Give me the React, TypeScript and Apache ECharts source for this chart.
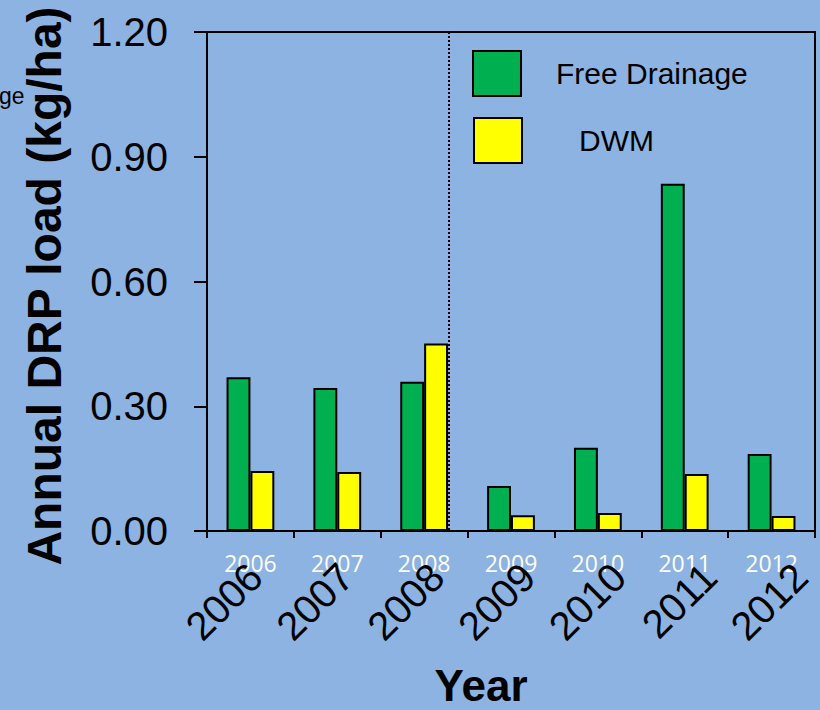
import React, { useEffect, useRef } from "react";
import * as echarts from "echarts";

const years = ["2006", "2007", "2008", "2009", "2010", "2011", "2012"];
const freeDrainage = [0.37, 0.344, 0.359, 0.108, 0.2, 0.835, 0.185];
const dwm = [0.144, 0.142, 0.451, 0.038, 0.043, 0.137, 0.036];
const seriesNames = ["Free Drainage", "DWM"];
const yMin = 0;
const yMax = 1.2;
const yStep = 0.3;
const yTitle = "Annual DRP load (kg/ha)";
const xTitle = "Year";

const ARIAL = "'Liberation Sans', Arial, sans-serif";
const BG = "#8DB3E2";

export default function App() {
  const ref = useRef<HTMLDivElement>(null);
  useEffect(() => {
    const el = ref.current;
    if (!el) return;
    const chart = echarts.init(el, null, { renderer: "svg" });
    const gridLeft = 207;
    const gridTop = 32;
    const gridRight = 5;
    const gridBottom = 179;
    const option: any = {
      animation: false,
      backgroundColor: BG,
      grid: [
        {
          left: gridLeft,
          top: gridTop,
          right: gridRight,
          bottom: gridBottom,
          containLabel: false,
          outerBoundsMode: "none",
          show: true,
          borderColor: "#000",
          borderWidth: 2,
          backgroundColor: "transparent",
        },
        {
          left: 210,
          width: 636,
          top: gridTop,
          bottom: gridBottom,
          containLabel: false,
          outerBoundsMode: "none",
          show: false,
        },
      ],
      legend: [
        {
          data: [seriesNames[0]],
          left: 472,
          top: 50,
          padding: 0,
          itemWidth: 48,
          itemHeight: 45,
          icon: "rect",
          itemStyle: { borderColor: "#000", borderWidth: 2 },
          textStyle: {
            fontSize: 30,
            fontFamily: ARIAL,
            color: "#000",
            padding: [0, 0, 0, 30],
          },
        },
        {
          data: [seriesNames[1]],
          left: 473,
          top: 117,
          padding: 0,
          itemWidth: 48,
          itemHeight: 45,
          icon: "rect",
          itemStyle: { borderColor: "#000", borderWidth: 2 },
          textStyle: {
            fontSize: 30,
            fontFamily: ARIAL,
            color: "#000",
            padding: [0, 0, 0, 52],
          },
        },
      ],
      xAxis: [
        {
          type: "category",
          gridIndex: 0,
          data: years,
          position: "bottom",
          axisLine: { show: true, lineStyle: { color: "#000", width: 2 } },
          axisTick: {
            show: true,
            alignWithLabel: false,
            length: 7,
            lineStyle: { color: "#000", width: 2 },
          },
          axisLabel: {
            color: "#fff",
            fontSize: 23,
            fontFamily: "'Open Sans', sans-serif",
            margin: 20,
          },
          splitLine: { show: false },
        },
        {
          type: "category",
          gridIndex: 1,
          data: years,
          position: "bottom",
          axisLine: { show: false },
          axisTick: { show: false },
          axisLabel: {
            color: "#000",
            fontSize: 40,
            fontFamily: ARIAL,
            rotate: 45,
            margin: 39,
          },
          splitLine: { show: false },
        },
      ],
      yAxis: [
        {
          type: "value",
          gridIndex: 0,
          min: yMin,
          max: yMax,
          interval: yStep,
          axisLine: { show: true, lineStyle: { color: "#000", width: 2 } },
          axisTick: {
            show: true,
            inside: false,
            length: 13,
            lineStyle: { color: "#000", width: 2 },
          },
          axisLabel: {
            color: "#000",
            fontSize: 40,
            fontFamily: ARIAL,
            margin: 39,
            formatter: (v: number) => v.toFixed(2),
          },
          splitLine: { show: false },
        },
        {
          type: "value",
          gridIndex: 1,
          min: yMin,
          max: yMax,
          show: false,
        },
      ],
      series: [
        {
          name: seriesNames[0],
          type: "bar",
          xAxisIndex: 0,
          yAxisIndex: 0,
          data: freeDrainage,
          barGap: "0%",
          barCategoryGap: "45%",
          itemStyle: { color: "#00B050", borderColor: "#000", borderWidth: 2 },
        },
        {
          name: seriesNames[1],
          type: "bar",
          xAxisIndex: 0,
          yAxisIndex: 0,
          data: dwm,
          barGap: "0%",
          barCategoryGap: "45%",
          itemStyle: { color: "#FFFF00", borderColor: "#000", borderWidth: 2 },
        },
      ],
      graphic: {
        elements: [
          {
            id: "ytitle",
            type: "text",
            x: 44,
            y: 286,
            rotation: Math.PI / 2,
            style: {
              text: yTitle,
              fontSize: 48,
              fontWeight: "bold",
              fontFamily: ARIAL,
              fill: "#000",
              align: "center",
              verticalAlign: "middle",
            },
          },
          {
            id: "xtitle",
            type: "text",
            x: 481,
            y: 685,
            style: {
              text: xTitle,
              fontSize: 44,
              fontWeight: "bold",
              fontFamily: ARIAL,
              fill: "#000",
              align: "center",
              verticalAlign: "middle",
            },
          },
          {
            id: "frag",
            type: "text",
            x: -1,
            y: 107,
            style: {
              text: "ge",
              fontSize: 23,
              fontFamily: ARIAL,
              fill: "#000",
              align: "left",
              verticalAlign: "bottom",
            },
          },
        ],
      },
    };
    chart.setOption(option);

    // Dotted separator after the 2008 group, placed via the category scale
    const c2008 = chart.convertToPixel({ xAxisIndex: 0 }, "2008") as number;
    const c2009 = chart.convertToPixel({ xAxisIndex: 0 }, "2009") as number;
    const catW = c2009 - c2008;
    const barW = (catW * (1 - 0.45)) / 2;
    const xSep = c2008 + barW + 1;
    const yTop = chart.convertToPixel({ yAxisIndex: 0 }, yMax) as number;
    const yBot = chart.convertToPixel({ yAxisIndex: 0 }, yMin) as number;
    chart.setOption({
      graphic: {
        elements: [
          {
            id: "sep",
            type: "line",
            shape: { x1: xSep, y1: yTop, x2: xSep, y2: yBot },
            style: { stroke: "#000", lineWidth: 2, lineDash: [2, 2] },
            z: 10,
          },
        ],
      },
    });

    return () => chart.dispose();
  }, []);

  return (
    <div
      ref={ref}
      style={{ position: "fixed", left: 0, top: 0, width: 820, height: 710 }}
    />
  );
}
